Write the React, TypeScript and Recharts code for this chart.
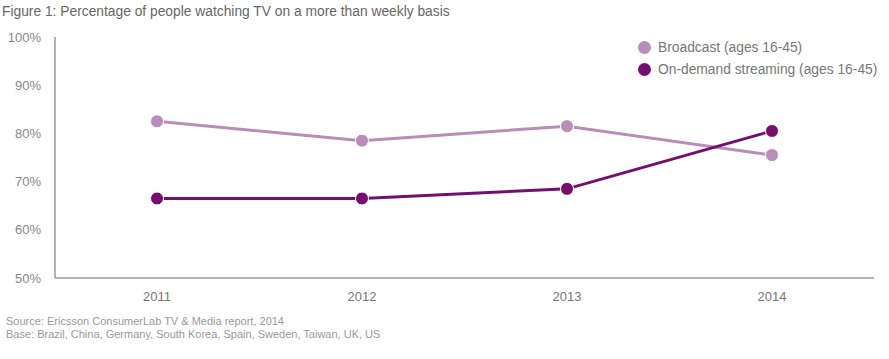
import React from "react";
import { LineChart, Line, XAxis, YAxis } from "recharts";

const years = ["2011", "2012", "2013", "2014"];
const broadcast = [82.5, 78.5, 81.5, 75.5];
const streaming = [66.5, 66.5, 68.5, 80.5];
const yTicks = [50, 60, 70, 80, 90, 100];

const BROADCAST_COLOR = "#b88db8";
const STREAM_COLOR = "#750f6e";
const FONT = "'Liberation Sans', Arial, sans-serif";

const data = years.map((y, i) => ({ year: y, broadcast: broadcast[i], streaming: streaming[i] }));

const legendItems = [
  { label: "Broadcast (ages 16-45)", color: BROADCAST_COLOR },
  { label: "On-demand streaming (ages 16-45)", color: STREAM_COLOR },
];

function LegendBox() {
  return (
    <div style={{ position: "absolute", left: 638, top: 36, fontFamily: FONT, fontSize: 13.8, color: "#777" }}>
      {legendItems.map((it) => (
        <div key={it.label} style={{ display: "flex", alignItems: "center", height: 22 }}>
          <span
            style={{
              display: "inline-block",
              width: 13,
              height: 13,
              borderRadius: "50%",
              background: it.color,
              marginRight: 7,
            }}
          />
          {it.label}
        </div>
      ))}
    </div>
  );
}

export default function App() {
  return (
    <div style={{ position: "absolute", left: 0, top: 0, width: 889, height: 359, background: "#fff", fontFamily: FONT }}>
      <div style={{ position: "absolute", left: 2, top: 4, fontSize: 13.8, color: "#666" }}>
        Figure 1: Percentage of people watching TV on a more than weekly basis
      </div>
      <LineChart width={889} height={310} data={data} margin={{ top: 37, right: 15, bottom: 0, left: 0 }}>
        <XAxis
          dataKey="year"
          axisLine={{ stroke: "#999", strokeWidth: 1.5 }}
          tickLine={false}
          padding={{ left: 102, right: 102 }}
          height={32}
          tick={{ fill: "#777", fontSize: 13, fontFamily: FONT }}
          tickMargin={8}
        />
        <YAxis
          domain={[50, 100]}
          ticks={yTicks}
          width={55}
          axisLine={{ stroke: "#999", strokeWidth: 1.5 }}
          tickLine={false}
          tickFormatter={(v) => `${v}%`}
          tick={{ fill: "#888", fontSize: 13, fontFamily: FONT }}
          tickMargin={8}
        />
        <Line
          dataKey="broadcast"
          stroke={BROADCAST_COLOR}
          strokeWidth={3}
          dot={{ r: 6.5, fill: BROADCAST_COLOR, stroke: "#fff", strokeWidth: 1 }}
          isAnimationActive={false}
        />
        <Line
          dataKey="streaming"
          stroke={STREAM_COLOR}
          strokeWidth={3}
          dot={{ r: 6.5, fill: STREAM_COLOR, stroke: "#fff", strokeWidth: 1 }}
          isAnimationActive={false}
        />
      </LineChart>
      <LegendBox />
      <div style={{ position: "absolute", left: 6, top: 315, fontSize: 11, color: "#999", lineHeight: "13px" }}>
        <div>Source: Ericsson ConsumerLab TV &amp; Media report, 2014</div>
        <div>Base: Brazil, China, Germany, South Korea, Spain, Sweden, Taiwan, UK, US</div>
      </div>
    </div>
  );
}
